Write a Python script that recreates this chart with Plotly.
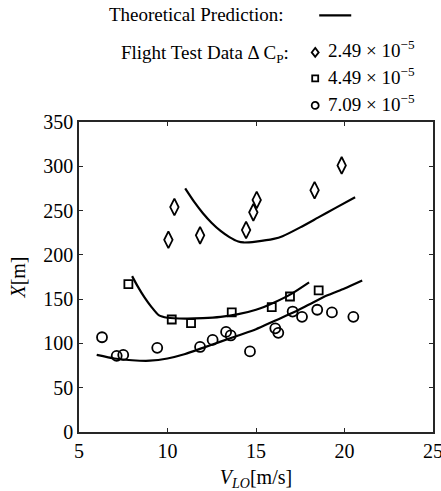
import plotly.graph_objects as go

# Theoretical prediction curves (ground roll distance vs lift-off speed)
v_pred_1 = [11.0, 11.5, 12.0, 12.5, 13.0, 13.5, 14.0, 14.3, 15.0, 16.0, 16.5, 17.5, 18.5, 19.5, 20.6]
x_pred_1 = [275, 260, 247, 236, 227, 220, 215, 214, 215, 218, 221, 231, 242, 253, 265]

v_pred_2 = [8.0, 8.3, 8.7, 9.1, 9.5, 10.0, 11.0, 12.0, 13.0, 14.0, 15.0, 16.0, 17.0, 18.0]
x_pred_2 = [176, 165, 152, 141, 132, 129, 128, 128.5, 130, 133, 138, 146, 156, 169]

v_pred_3 = [6.0, 7.0, 8.0, 9.0, 10.0, 11.0, 12.0, 13.0, 14.0, 15.0, 16.0, 17.0, 18.0, 19.0, 20.0, 21.0]
x_pred_3 = [87, 83, 81, 80.5, 83, 88, 95, 102, 109, 116, 125, 134, 144, 154, 162, 171]

# Flight test data, grouped by Delta C_P
v_test_1 = [10.05, 10.39, 11.84, 14.44, 14.85, 15.04, 18.31, 19.84]
x_test_1 = [217, 254, 222, 228, 248, 262, 273, 301]

v_test_2 = [7.79, 10.24, 11.33, 13.63, 15.89, 16.92, 18.54]
x_test_2 = [167, 127, 123, 135, 141, 153, 160]

v_test_3 = [6.30, 7.13, 7.50, 9.42, 11.84, 12.55, 13.31, 13.57, 14.66, 16.09, 16.26,
            17.07, 17.60, 18.46, 19.29, 20.50]
x_test_3 = [107, 86, 87, 95, 96, 104, 113, 109, 91, 117, 112, 136, 130, 138, 135, 130]

delta_cp_labels = ["2.49 × 10<sup>−5</sup>", "4.49 × 10<sup>−5</sup>", "7.09 × 10<sup>−5</sup>"]

x_ticks = [5, 10, 15, 20, 25]
y_ticks = [0, 50, 100, 150, 200, 250, 300, 350]

FONT = "Liberation Serif"
INK = "black"
AXIS = "#262626"

fig = go.Figure()

for v, x in [(v_pred_1, x_pred_1), (v_pred_2, x_pred_2), (v_pred_3, x_pred_3)]:
    fig.add_trace(go.Scatter(x=v, y=x, mode="lines",
                             line=dict(color=INK, width=2.2, shape="spline", smoothing=0.6),
                             showlegend=False, hoverinfo="skip"))

for v, x, sym, size in [(v_test_1, x_test_1, "diamond-tall-open", 12),
                        (v_test_2, x_test_2, "square-open", 8),
                        (v_test_3, x_test_3, "circle-open", 10)]:
    fig.add_trace(go.Scatter(x=v, y=x, mode="markers",
                             marker=dict(symbol=sym, size=size, color=INK,
                                         line=dict(color=INK, width=1.8)),
                             showlegend=False))

axis_common = dict(
    showline=True, linecolor=AXIS, linewidth=1.5, mirror="ticks",
    ticks="inside", ticklen=4, tickwidth=1.2, tickcolor=AXIS,
    showgrid=False, zeroline=False, automargin=False,
    ticklabeloverflow="allow",
    tickfont=dict(family=FONT, size=20, color=INK),
)

fig.update_xaxes(range=[5, 25], tickvals=x_ticks, **axis_common,
                 title=dict(text="<i>V</i><sub><i>LO</i></sub>[m/s]",
                            font=dict(family=FONT, size=20, color=INK), standoff=15))
fig.update_yaxes(range=[0, 350], tickvals=y_ticks, **axis_common,
                 title=dict(text="<i>X</i>[m]",
                            font=dict(family=FONT, size=20, color=INK), standoff=12))

# Key drawn above the axes
def px_to_paper_x(px):
    return (px - 79) / 353.7

def px_to_paper_y(py):
    return (432 - py) / 309.5

annotations = [
    dict(text="Theoretical Prediction:", x=px_to_paper_x(286), y=px_to_paper_y(15),
         xanchor="right", yanchor="middle"),
    dict(text="Flight Test Data Δ C<sub>P</sub>:", x=px_to_paper_x(291), y=px_to_paper_y(55),
         xanchor="right", yanchor="middle"),
]
for label, py in zip(delta_cp_labels, [51, 78, 105]):
    annotations.append(dict(text=label, x=px_to_paper_x(326), y=px_to_paper_y(py - 1),
                            xanchor="left", yanchor="middle"))
for a in annotations:
    a.update(xref="paper", yref="paper", showarrow=False,
             font=dict(family=FONT, size=19, color=INK))
fig.update_layout(annotations=annotations)

key_y = [53, 79, 106]
shapes = [
    dict(type="line", xref="paper", yref="paper",
         x0=px_to_paper_x(319), x1=px_to_paper_x(351),
         y0=px_to_paper_y(16), y1=px_to_paper_y(16),
         line=dict(color=INK, width=2.2)),
    dict(type="path", xref="paper", yref="paper", xsizemode="pixel", ysizemode="pixel",
         xanchor=px_to_paper_x(315), yanchor=px_to_paper_y(key_y[0]),
         path="M 0 4.5 L 3.5 0 L 0 -4.5 L -3.5 0 Z", line=dict(color=INK, width=1.8)),
    dict(type="rect", xref="paper", yref="paper", xsizemode="pixel", ysizemode="pixel",
         xanchor=px_to_paper_x(315), yanchor=px_to_paper_y(key_y[1]),
         x0=-3, x1=3, y0=-3, y1=3, line=dict(color=INK, width=1.8)),
    dict(type="circle", xref="paper", yref="paper", xsizemode="pixel", ysizemode="pixel",
         xanchor=px_to_paper_x(315), yanchor=px_to_paper_y(key_y[2]),
         x0=-3.5, x1=3.5, y0=-3.5, y1=3.5, line=dict(color=INK, width=1.8)),
]
fig.update_layout(shapes=shapes)

fig.update_layout(
    width=441, height=491,
    margin=dict(l=79, r=8, t=122, b=59),
    paper_bgcolor="white", plot_bgcolor="white",
    font=dict(family=FONT, color=INK),
)

fig.write_html("out.html")
